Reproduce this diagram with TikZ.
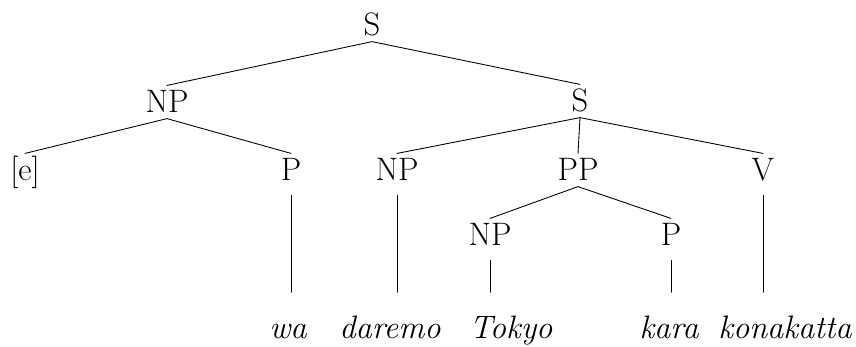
\documentclass[tikz,border=0pt]{standalone}
\usepackage{fontspec}
\usetikzlibrary{positioning}
\newcommand{\treefont}{\fontsize{18.5}{22}\selectfont}
\tikzset{
  cat/.style={font=\treefont,inner sep=3pt,text height=12.5pt,text depth=0pt,anchor=base},
  word/.style={font=\treefont\itshape,inner sep=3pt,text height=12.5pt,text depth=0pt,anchor=base},
  branch/.style={line width=.5pt},
  leaf/.style={branch,shorten <=5pt,shorten >=11pt},
}

\begin{document}
\begin{tikzpicture}[x=0.02cm,y=-0.02cm,line cap=round,line join=round]
  \path[use as bounding box] (0,0) rectangle (856,347);

  % categories, by tier
  \node[cat] (S)   at (372,36)  {S};
  \node[cat] (NPa) at (167,113) {NP};
  \node[cat] (Sb)  at (580,112) {S};
  \node[cat] (E)   at (25,181)  {[e]};
  \node[cat] (Pa)  at (291,181) {P};
  \node[cat] (NPb) at (397,181) {NP};
  \node[cat] (PP)  at (578,181) {PP};
  \node[cat] (V)   at (763,181) {V};
  \node[cat] (NPc) at (490,246) {NP};
  \node[cat] (Pc)  at (671,246) {P};

  % lexical items
  \foreach \name/\x/\w in {wa/288/wa,dar/390/daremo,tok/511/Tokyo,kara/669/kara,kon/785/konakatta}
    \node[word] (\name) at (\x,339) {\w};

  \draw[branch] (NPa.north) -- (S.south) -- (Sb.north);
  \draw[branch] (E.north) -- (NPa.south) -- (Pa.north);
  \draw[branch] (NPb.north) -- (Sb.south) -- (V.north);
  \draw[branch] (Sb.south) -- (PP.north);
  \draw[branch] (NPc.north) -- (PP.south) -- (Pc.north);

  \foreach \a/\b in {Pa/wa,NPb/dar,NPc/tok,Pc/kara,V/kon}
    \draw[leaf] (\a.south) -- (\a.south |- \b.north);
\end{tikzpicture}
\end{document}
